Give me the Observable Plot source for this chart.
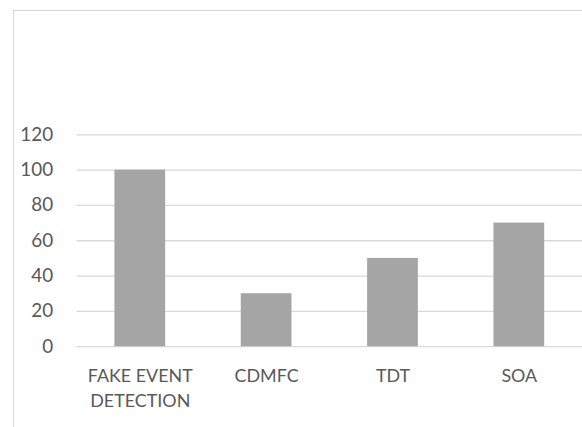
<!DOCTYPE html>
<html>
<head>
<meta charset="utf-8">
<script src="https://cdn.jsdelivr.net/npm/d3@7"></script>
<script src="https://cdn.jsdelivr.net/npm/@observablehq/plot@0.6"></script>
<style>
  html, body { margin: 0; padding: 0; background: #fff; overflow: hidden; }
  #wrap { position: relative; width: 582px; height: 427px; overflow: hidden; }
  #frame { position: absolute; left: 13px; top: 10px; width: 700px; height: 600px; border: 1.3px solid #d9d9d9; box-sizing: border-box; }
  #chart { position: absolute; left: 0; top: 0; }
</style>
</head>
<body>
<div id="wrap"><div id="frame"></div><div id="chart"></div></div>
<script>
const categories = ["FAKE EVENT\nDETECTION", "CDMFC", "TDT", "SOA"];
const values = [100, 30, 50, 70];
const yTicks = [0, 20, 40, 60, 80, 100, 120];

const data = categories.map((c, i) => ({category: c, value: values[i]}));

const chart = Plot.plot({
  width: 585,
  height: 427,
  marginLeft: 77,
  marginRight: 0,
  marginTop: 135,
  marginBottom: 79,
  style: {fontFamily: "Lato, 'Open Sans', sans-serif", fontSize: "18px", color: "#595959", background: "transparent"},
  x: {domain: categories, paddingInner: 0.6, paddingOuter: 0.3, label: null},
  y: {domain: [0, 120], label: null},
  marks: [
    Plot.gridY(yTicks, {stroke: "#d9d9d9", strokeOpacity: 1, strokeWidth: 1.3}),
    Plot.barY(data, {x: "category", y: "value", fill: "#a5a5a5"}),
    Plot.axisY(yTicks, {tickSize: 0, tickPadding: 24, fill: "#595959", fontSize: 19, label: null}),
    Plot.axisX({tickSize: 0, tickPadding: 18, lineAnchor: "top", lineHeight: 1.38, fill: "#595959", fontSize: 18, label: null})
  ]
});
document.getElementById("chart").appendChild(chart);
</script>
</body>
</html>
